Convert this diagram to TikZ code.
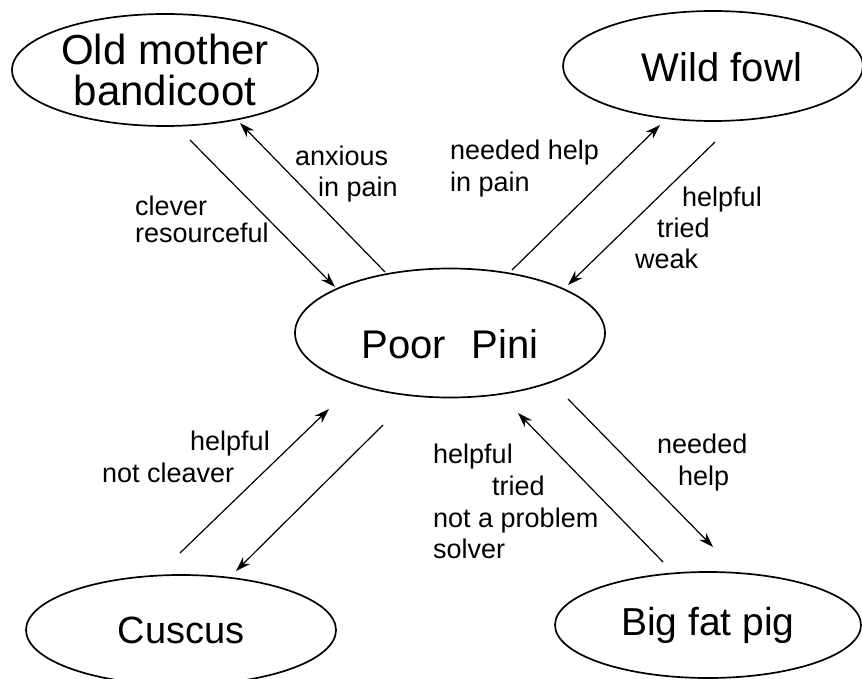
\documentclass[tikz,border=0pt]{standalone}
\usepackage{fontspec}
\setmainfont{Liberation Sans}
\usetikzlibrary{shapes.geometric,arrows.meta}
\begin{document}
\begin{tikzpicture}[x=1pt,y=-1pt,
  animal/.style={draw, ellipse, line width=1.7pt, inner sep=0pt,
    font=\fontsize{40}{40}\selectfont},
  lbl/.style={anchor=base west, inner sep=0pt,
    font=\fontsize{27}{31}\selectfont},
  link/.style={line width=1.2pt, -{Stealth[length=15pt,width=10pt]}}
]
\useasboundingbox (0,0) rectangle (862,679);

% characters
\node[animal, minimum width=306pt, minimum height=112pt, align=center,
  font=\fontsize{42}{41}\selectfont] (bandicoot) at (165,70) {Old mother\\bandicoot};
\node[animal, minimum width=300pt, minimum height=110pt,
  text height=32pt, text depth=0pt] (fowl) at (713,66) {\hspace*{18pt}Wild fowl};
\node[animal, minimum width=310pt, minimum height=129pt,
  text height=50pt, text depth=0pt,
  font=\fontsize{40}{40}\selectfont] (pini) at (450,333) {Poor\hspace{26pt}Pini};
\node[animal, minimum width=310pt, minimum height=110pt,
  text height=27pt, text depth=1pt,
  font=\fontsize{38}{38}\selectfont] (cuscus) at (181,630) {Cuscus};
\node[animal, minimum width=306pt, minimum height=106pt,
  text height=28pt, text depth=8pt,
  font=\fontsize{39}{39}\selectfont] (pig) at (708,625) {Big fat pig};

% arrow end points
\coordinate (bandicootOut) at (190,140);
\coordinate (piniFromBandicoot) at (335,287);
\coordinate (piniToBandicoot) at (385,272);
\coordinate (bandicootIn) at (240,123);

\coordinate (piniToFowl) at (512,270);
\coordinate (fowlIn) at (660,125);
\coordinate (fowlOut) at (715,142);
\coordinate (piniFromFowl) at (568,285);

\coordinate (cuscusOut) at (180,553);
\coordinate (piniFromCuscus) at (329,409);
\coordinate (piniToCuscus) at (383,425);
\coordinate (cuscusIn) at (236,571);

\coordinate (piniToPig) at (568,399);
\coordinate (pigIn) at (713,547);
\coordinate (pigOut) at (663,562);
\coordinate (piniFromPig) at (518,413);

% relations
\draw[link] (bandicootOut) -- (piniFromBandicoot);
\draw[link] (piniToBandicoot) -- (bandicootIn);
\draw[link] (piniToFowl) -- (fowlIn);
\draw[link] (fowlOut) -- (piniFromFowl);
\draw[link] (cuscusOut) -- (piniFromCuscus);
\draw[link] (piniToCuscus) -- (cuscusIn);
\draw[link] (piniToPig) -- (pigIn);
\draw[link] (pigOut) -- (piniFromPig);

% labels
\node[lbl] (l1a) at (135,215) {clever};
\node[lbl] (l1b) at (135,243) {resourceful};
\node[lbl] (l2a) at (295,166) {anxious};
\node[lbl] (l2b) at (318,197) {in pain};
\node[lbl] (l3a) at (450,160) {needed help};
\node[lbl] (l3b) at (450,192) {in pain};
\node[lbl] (l4a) at (682,207) {helpful};
\node[lbl] (l4b) at (657,237) {tried};
\node[lbl] (l4c) at (635,268) {weak};
\node[lbl] (l5a) at (190,450) {helpful};
\node[lbl] (l5b) at (102,482) {not cleaver};
\node[lbl] (l6a) at (433,463) {helpful};
\node[lbl] (l6b) at (492,495) {tried};
\node[lbl] (l6c) at (433,527) {not a problem};
\node[lbl] (l6d) at (433,558) {solver};
\node[lbl] (l7a) at (657,453) {needed};
\node[lbl] (l7b) at (678,485) {help};
\end{tikzpicture}
\end{document}
